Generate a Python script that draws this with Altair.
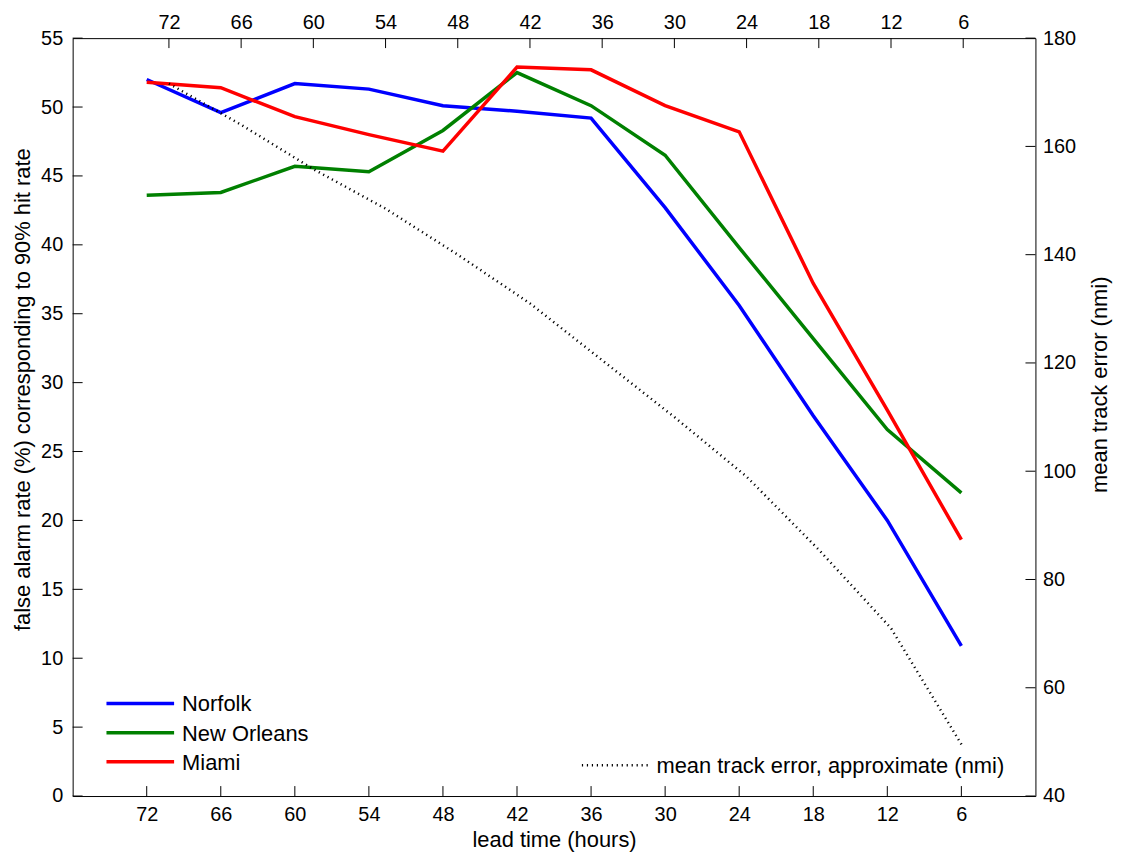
import altair as alt
import pandas as pd

# ---- data ----
hours = [72, 66, 60, 54, 48, 42, 36, 30, 24, 18, 12, 6]
cities = ["Norfolk", "New Orleans", "Miami"]
colors = ["#0000ff", "#008000", "#ff0000"]
norfolk = [52.0, 49.6, 51.7, 51.3, 50.1, 49.7, 49.2, 42.7, 35.6, 27.6, 20.0, 10.9]
new_orleans = [43.6, 43.8, 45.7, 45.3, 48.3, 52.5, 50.1, 46.5, 39.8, 33.2, 26.6, 22.0]
miami = [51.8, 51.4, 49.3, 48.0, 46.8, 52.9, 52.7, 50.1, 48.2, 37.2, 28.0, 18.6]
mean_track_error = [171.6, 164.0, 155.8, 148.5, 140.0, 131.0, 120.5, 110.0, 99.0, 85.5, 71.0, 49.0]
left_ticks = [0, 5, 10, 15, 20, 25, 30, 35, 40, 45, 50, 55]
right_ticks = [40, 60, 80, 100, 120, 140, 160, 180]
dotted_label = "mean track error, approximate (nmi)"
x_title = "lead time (hours)"
y_title = "false alarm rate (%) corresponding to 90% hit rate"
y2_title = "mean track error (nmi)"

W, H = 968, 762
FONT = "Liberation Sans"
TICK = 10
DASH = [1.2, 3.8]

rows = []
for city, vals in zip(cities, [norfolk, new_orleans, miami]):
    for h, v in zip(hours, vals):
        rows.append({"city": city, "hours": h, "far": v})
df = pd.DataFrame(rows)
mte_df = pd.DataFrame({"hours": hours, "mte": mean_track_error})
lt_df = pd.DataFrame({"v": left_ticks})
rt_df = pd.DataFrame({"v": right_ticks})
ht_df = pd.DataFrame({"h": hours})
one = pd.DataFrame({"k": [0]})

x_bottom = alt.Scale(domain=[0, 78], reverse=True, nice=False, zero=False)
y_left = alt.Scale(domain=[0, 55], nice=False, zero=False)
x_top = alt.Scale(domain=[0, 80], reverse=True, nice=False, zero=False)
y_right = alt.Scale(domain=[40, 180], nice=False, zero=False)

lines = alt.Chart(df).mark_line(strokeWidth=3.5).encode(
    x=alt.X("hours:Q", scale=x_bottom,
            axis=alt.Axis(orient="bottom", values=hours, ticks=False, labelPadding=9,
                          title=x_title, titleX=W / 2, titleY=51, titleAlign="center",
                          titleBaseline="alphabetic", titleAngle=0)),
    y=alt.Y("far:Q", scale=y_left,
            axis=alt.Axis(orient="left", values=left_ticks, ticks=False, labelPadding=10,
                          title=y_title, titleAngle=270, titleX=-43, titleY=353,
                          titleAlign="center", titleBaseline="alphabetic")),
    color=alt.Color("city:N", scale=alt.Scale(domain=cities, range=colors), legend=None),
)

dotted = alt.Chart(mte_df).mark_line(color="black", strokeWidth=2.5, strokeDash=DASH).encode(
    x=alt.X("hours:Q", scale=x_top,
            axis=alt.Axis(orient="top", values=hours, ticks=False, labelPadding=6, title=None)),
    y=alt.Y("mte:Q", scale=y_right,
            axis=alt.Axis(orient="right", values=right_ticks, ticks=False, labelPadding=7,
                          title=y2_title, titleAngle=270, titleX=71, titleY=348,
                          titleAlign="center", titleBaseline="alphabetic")),
)

left_tick_layer = alt.Chart(lt_df).mark_rule(color="black", strokeWidth=1).encode(
    y=alt.Y("v:Q", scale=y_left, axis=None), x=alt.value(0), x2=alt.value(TICK))
bottom_tick_layer = alt.Chart(ht_df).mark_rule(color="black", strokeWidth=1).encode(
    x=alt.X("h:Q", scale=x_bottom, axis=None), y=alt.value(H), y2=alt.value(H - TICK))
top_tick_layer = alt.Chart(ht_df).mark_rule(color="black", strokeWidth=1).encode(
    x=alt.X("h:Q", scale=x_top, axis=None), y=alt.value(0), y2=alt.value(TICK))
right_tick_layer = alt.Chart(rt_df).mark_rule(color="black", strokeWidth=1).encode(
    y=alt.Y("v:Q", scale=y_right, axis=None), x=alt.value(W - TICK), x2=alt.value(W))

legend_layers = []
for i, (city, col) in enumerate(zip(cities, colors)):
    ly = 669 + 29.3 * i
    legend_layers.append(alt.Chart(one).mark_rule(strokeWidth=3.5, color=col).encode(
        x=alt.value(34), x2=alt.value(102), y=alt.value(ly)))
    legend_layers.append(alt.Chart(one).mark_text(align="left", baseline="alphabetic",
                                                  font=FONT, fontSize=22, color="black").encode(
        x=alt.value(110), y=alt.value(ly + 8), text=alt.value(city)))
legend_layers.append(alt.Chart(one).mark_rule(color="black", strokeWidth=2.5, strokeDash=DASH).encode(
    x=alt.value(512), x2=alt.value(580), y=alt.value(731)))
legend_layers.append(alt.Chart(one).mark_text(align="left", baseline="alphabetic", font=FONT,
                                              fontSize=22, color="black").encode(
    x=alt.value(587), y=alt.value(739), text=alt.value(dotted_label)))

chart = alt.layer(
    lines, dotted, left_tick_layer, bottom_tick_layer, top_tick_layer, right_tick_layer,
    *legend_layers
).resolve_scale(
    x="independent", y="independent"
).properties(
    width=W, height=H,
    padding={"left": 65, "top": 28, "right": 79, "bottom": 58},
    autosize=alt.AutoSizeParams(type="none"),
    background="white",
).configure_view(stroke=None).configure_axis(
    labelFont=FONT, labelFontSize=20, labelColor="black",
    titleFont=FONT, titleFontSize=22, titleFontWeight="normal", titleColor="black",
    domainColor="black", domainWidth=1, grid=False, labelOverlap=False, labelFlush=False,
)

chart.save("out.html", embed_options={"renderer": "svg", "actions": False})
